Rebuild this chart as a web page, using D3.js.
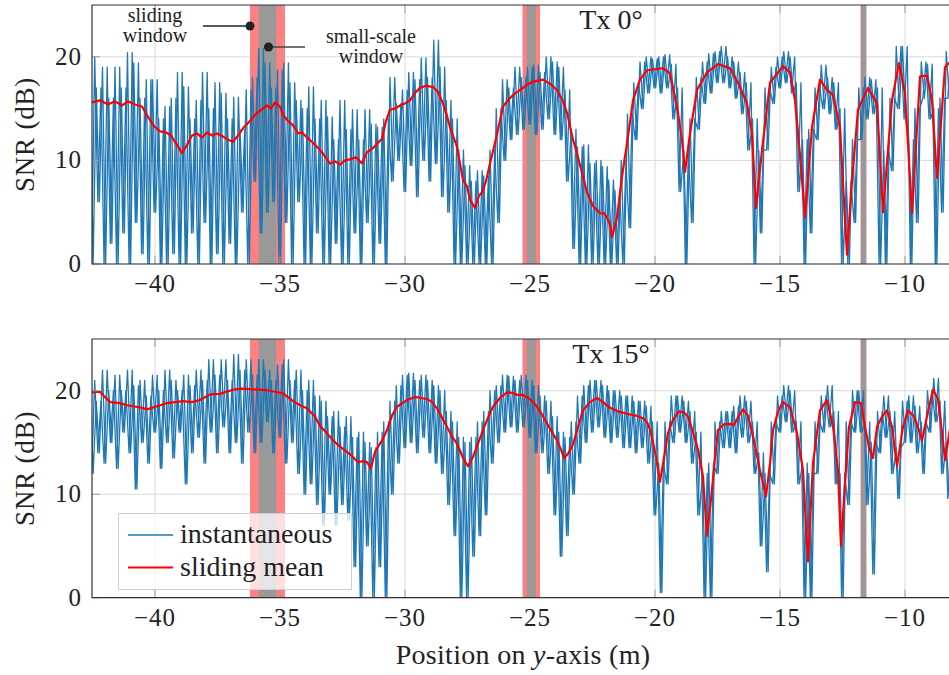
<!DOCTYPE html>
<html>
<head>
<meta charset="utf-8">
<script src="https://cdn.jsdelivr.net/npm/d3@7/dist/d3.min.js"></script>
<style>
  body { margin: 0; background: #fff; }
  svg { display: block; }
</style>
</head>
<body>
<div id="chart"></div>
<script>
// instantaneous SNR, read as upper / lower envelope per 0.25 m bin (starting at -42.6 m)
var binStart = -42.6
var binStep = 0.25

var hiTop = [20, 17, 19, 16, 19, 17, 20.4, 19.4, 16, 17.8, 17.8, 14, 15.2, 16, 18.5, 17.1, 14, 15.8, 18.5, 15,
  17.5, 16.5, 14, 16.1, 13, 16.8, 18, 20.8, 19.4, 17, 18.7, 19.4, 17.5, 15.8, 15, 17.1, 14, 15.8, 14.2, 12,
  15.8, 13, 14.9, 12, 14.9, 13.5, 13.2, 14, 18, 15.5, 16.8, 18.5, 17.8, 19.9, 18, 21.6, 19, 15.8, 14, 11,
  9.5, 8, 9, 8.5, 11, 15, 17.8, 17, 19, 18, 19, 19.2, 18.5, 20, 19.5, 19, 16.8, 13, 11.3, 11.5,
  9.7, 10, 9.4, 8.1, 7.1, 10, 14.5, 17.5, 19.5, 20, 19.8, 20, 20.2, 19.3, 17, 11, 14, 18, 19.5, 20.3,
  20.5, 21, 20, 19.5, 18.5, 17.5, 14, 11, 17, 19, 20, 20.5, 20, 17.5, 12, 13, 17, 19.2, 18, 17.5,
  15, 8, 12, 17, 18, 17.8, 17, 11, 16, 21, 21, 12, 15, 19.5, 19.3, 15, 16, 20.5, 21, 20]
var loTop = [0, 6, 0, 2, 0, 3, 0, 4, 1, 0, 5, 0, 0, 1, 0, 0, 3, 0, 4, 0,
  1, 0, 2, 0, 5, 0, 8, 3, 5, 6, 0, 4, 0, 6, 0, 0, 3, 0, 0, 2,
  0, 0, 3, 0, 4, 0, 2, 0, 8, 10, 7, 9.5, 6.5, 10, 8, 9.7, 6.5, 5, 0, 0,
  0, 0, 0, 0, 0, 4, 10, 12, 12.5, 13, 13.5, 12.5, 13, 14, 12.5, 12, 8, 1.5, 0, 0,
  0, 0, 0, 0, 0, 0, 3.5, 12, 15, 16.5, 17, 16.5, 17, 14, 7, 0, 4, 13, 15.5, 16.5,
  17.5, 17.5, 17, 16, 14.5, 11, 0, 3, 11, 15.5, 17, 17.5, 16.5, 7, 0, 3, 12, 15, 14.5, 13,
  0, 0, 4, 12, 14, 14.5, 0, 0, 9, 15, 14, 0, 4, 16, 14, 0, 5, 16, 17, 16]

var hiBottom = [21, 19, 22, 20, 21.5, 20, 22, 20.5, 21, 19.5, 21.5, 20, 22, 21, 20, 21.5, 20.5, 22, 21, 23,
  21.5, 23, 21, 23.5, 22, 23, 21.5, 23, 22, 21, 22.5, 23, 21, 22, 20, 21, 19.5, 19, 17.5, 18,
  16.5, 17.5, 15.5, 16, 15, 14.5, 16, 17, 19, 20.5, 21.5, 21.7, 21, 21.5, 21, 20.5, 20, 18, 17, 15.5,
  15, 15.5, 17, 18, 20, 20.5, 21.5, 21.4, 21, 21.5, 21, 20.5, 19.5, 19, 17.5, 16, 15.5, 17, 19.5, 20.5,
  21, 21, 20.5, 20, 20, 19.5, 19.5, 19, 19, 18.5, 17, 13, 17, 19.5, 19.5, 19, 18, 16, 12, 13,
  17, 18, 18, 18.5, 19.5, 19, 17, 14, 12, 17, 19.5, 20.5, 20, 17, 13, 12, 17, 19.5, 20.5, 18,
  12, 17, 20, 20, 17, 15, 18, 19.5, 18, 14.5, 19, 19.5, 18.5, 17, 20, 21.2, 19, 15, 19, 20]
var loBottom = [12, 14, 13, 15, 12.5, 16, 14, 10.5, 15, 13, 16, 12.5, 15, 13.5, 16, 11, 14, 15.5, 13, 16,
  14, 16.5, 14, 15, 13, 16, 14, 15, 17, 14, 15.5, 13, 15, 12, 10, 11, 9, 7, 10, 7,
  9, 7.5, 3, 0, 5, 0, 3, 0, 10, 13, 14.5, 15, 14, 15.5, 14, 13, 12, 9, 6, 0,
  0, 4, 6, 8, 13, 15, 16, 16.5, 16, 16.5, 15.5, 14, 14, 12, 8, 4, 6, 10, 13, 15,
  16, 16.5, 15.5, 15, 15.5, 14.5, 14.5, 14, 14.5, 13, 8, 0.5, 11, 15, 16, 15, 13, 8, 0, 0,
  12, 14.5, 14.5, 14, 15.5, 15, 12, 5, 2.5, 11, 16, 17, 16, 11, 0, 0, 12, 16, 16.5, 11,
  0, 9, 16, 16, 9, 2.3, 14, 15.5, 12, 9.6, 15, 15, 14, 12, 16, 17, 12, 9.6, 14, 16]

// sliding mean (m, dB)
var meanPosTop = [-42.52, -42.2, -41.88, -41.6, -41.32, -41.08, -40.8, -40.52, -40.28, -40.04, -39.8, -39.56, -39.36, -39.12, -38.92, -38.72, -38.52, -38.32, -38.12, -37.92,
  -37.72, -37.52, -37.28, -37.08, -36.88, -36.68, -36.48, -36.24, -35.92, -35.68, -35.52, -35.36, -35.2, -35.0, -34.88, -34.68, -34.48, -34.28, -34.12, -33.92,
  -33.68, -33.4, -33.2, -33.0, -32.8, -32.6, -32.4, -32.2, -31.96, -31.72, -31.52, -31.32, -31.08, -30.92, -30.76, -30.6, -30.4, -30.2, -30.0, -29.8,
  -29.6, -29.4, -29.16, -28.88, -28.68, -28.48, -28.32, -28.2, -27.92, -27.68, -27.52, -27.4, -27.2, -27.04, -26.92, -26.76, -26.6, -26.32, -26.08, -25.88,
  -25.68, -25.4, -25.12, -24.88, -24.48, -24.2, -23.92, -23.68, -23.52, -23.28, -23.12, -22.92, -22.72, -22.48, -22.2, -22.04, -21.92, -21.8, -21.72, -21.52,
  -21.28, -21.08, -20.88, -20.6, -20.32, -20.0, -19.68, -19.4, -19.12, -18.92, -18.8, -18.6, -18.32, -17.92, -17.48, -17.0, -16.68, -16.32, -16.12, -15.96,
  -15.72, -15.4, -14.88, -14.6, -14.4, -14.2, -14.0, -13.72, -13.4, -13.12, -12.88, -12.6, -12.44, -12.32, -12.12, -11.88, -11.48, -11.12, -10.88, -10.52,
  -10.24, -10.0, -9.72, -9.4, -9.12, -8.92, -8.72, -8.4, -8.12, -7.8]
var meanTop = [15.6, 15.8, 15.4, 15.7, 15.3, 15.7, 15.4, 15.2, 14.2, 13.3, 12.8, 12.7, 12.4, 11.5, 10.7, 11.5, 12.4, 12.6, 12.2, 12.7,
  12.4, 12.6, 12.3, 12.0, 11.8, 12.4, 13.1, 13.7, 14.6, 15.0, 15.3, 15.0, 15.6, 15.2, 14.4, 13.8, 13.4, 12.6, 12.7, 12.2,
  11.7, 11.0, 10.4, 9.7, 9.9, 9.6, 10.0, 10.1, 10.3, 9.7, 10.8, 11.1, 11.7, 12.1, 13.8, 14.9, 15.0, 15.3, 15.5, 15.8,
  16.5, 17.0, 17.2, 17.1, 16.6, 15.5, 14.3, 13.2, 11.3, 8.1, 7.5, 6.2, 5.4, 6.6, 6.9, 8.0, 9.7, 12.5, 15.2, 15.8,
  16.3, 16.8, 17.3, 17.6, 17.8, 17.4, 16.8, 15.7, 14.6, 12.0, 10.7, 8.8, 6.9, 5.6, 4.9, 4.9, 4.5, 3.8, 2.6, 4.5,
  9.1, 12.3, 15.8, 17.8, 18.7, 18.8, 18.9, 18.4, 15.2, 12.0, 8.9, 12.6, 16.8, 18.5, 19.3, 18.9, 17.5, 15.5, 12.6, 5.4,
  11.0, 17.5, 19.1, 18.5, 15.8, 10.5, 4.5, 13.2, 17.8, 16.8, 16.3, 13.2, 6.0, 0.9, 8.0, 14.9, 17.0, 15.5, 5.0, 15.8,
  19.4, 16.5, 4.9, 18.1, 18.2, 15.8, 8.3, 19.0, 19.7, 19.5]

var meanPosBottom = [-42.52, -42.2, -42.0, -41.8, -41.4, -41.12, -40.88, -40.6, -40.32, -39.92, -39.52, -39.2, -38.88, -38.52, -38.2, -37.8, -37.4, -36.88, -36.52, -36.2,
  -35.88, -35.52, -35.2, -34.88, -34.48, -34.2, -33.92, -33.6, -33.4, -33.16, -32.88, -32.6, -32.32, -32.08, -31.88, -31.68, -31.52, -31.36, -31.2, -30.92,
  -30.72, -30.52, -30.32, -29.92, -29.6, -29.36, -29.12, -28.92, -28.72, -28.52, -28.32, -28.12, -27.92, -27.68, -27.48, -27.28, -27.08, -26.88, -26.68, -26.48,
  -26.2, -25.92, -25.72, -25.52, -25.32, -25.12, -24.92, -24.72, -24.52, -24.32, -24.12, -23.92, -23.76, -23.64, -23.48, -23.28, -23.08, -22.88, -22.6, -22.32,
  -22.08, -21.8, -21.48, -21.08, -20.76, -20.44, -20.28, -20.16, -19.96, -19.8, -19.64, -19.48, -19.28, -19.04, -18.84, -18.68, -18.48, -18.28, -18.08, -17.92,
  -17.76, -17.6, -17.48, -17.24, -17.04, -16.84, -16.64, -16.48, -16.28, -16.04, -15.8, -15.56, -15.4, -15.28, -15.08, -14.88, -14.6, -14.32, -14.08, -13.88,
  -13.68, -13.4, -13.12, -12.88, -12.68, -12.56, -12.4, -12.24, -12.0, -11.76, -11.6, -11.44, -11.28, -11.12, -10.92, -10.72, -10.52, -10.32, -10.08, -9.88,
  -9.64, -9.48, -9.32, -9.08, -8.88, -8.68, -8.52, -8.4, -8.12, -7.8]
var meanBottom = [19.85, 19.9, 19.4, 18.9, 18.8, 18.6, 18.5, 18.4, 18.2, 18.5, 18.8, 18.9, 19.0, 18.9, 19.1, 19.65, 19.7, 20.1, 20.2, 20.15,
  20.1, 20.05, 19.9, 19.75, 19.0, 18.6, 18.3, 17.5, 16.6, 16.0, 15.2, 14.6, 14.1, 13.6, 13.1, 13.2, 13.1, 12.5, 14.1, 15.2,
  16.2, 17.6, 18.45, 19.1, 19.4, 19.3, 19.2, 18.9, 18.3, 17.4, 16.5, 15.6, 14.9, 13.5, 12.7, 13.6, 14.9, 16.2, 17.4, 18.45,
  19.3, 19.85, 19.8, 19.6, 19.6, 19.4, 19.0, 18.45, 17.7, 16.85, 16.0, 15.2, 14.3, 13.5, 13.9, 14.8, 16.5, 18.1, 18.9, 19.3,
  18.9, 18.35, 18.0, 17.75, 17.6, 17.3, 16.8, 15.9, 13.6, 11.2, 13.5, 15.9, 17.2, 18.0, 17.9, 17.5, 16.0, 14.3, 11.7, 6.0,
  9.5, 13.5, 16.2, 16.75, 16.8, 16.7, 17.6, 18.2, 17.6, 15.2, 12.3, 9.8, 13.0, 16.2, 18.0, 18.9, 18.4, 15.9, 12.3, 3.5,
  13.0, 18.1, 19.1, 16.6, 12.3, 5.0, 11.0, 16.5, 18.9, 18.8, 16.5, 14.5, 13.5, 16.5, 17.5, 18.1, 16.5, 12.7, 16.5, 18.1,
  17.5, 16.5, 15.2, 18.0, 20.1, 19.2, 16.0, 13.3, 17.5, 19.0]

// analysis windows (center, sliding window width, small-scale window width), m
var winCenter = [-35.5, -24.95, -11.66]
var slideWidth = [1.4, 0.7, 0.24]
var smallWidth = [0.7, 0.36, 0.2]

var xTicks = [-40, -35, -30, -25, -20, -15, -10]
var yTicks = [0, 10, 20]
var panelTitles = ['Tx 0°', 'Tx 15°']
var legendLabels = ['instantaneous', 'sliding mean']

var width = 949
var height = 675
var blue = '#1f77b4'
var red = '#ff0000'
var textColor = '#222'

var svg = d3
  .select('#chart')
  .append('svg')
  .attr('width', width)
  .attr('height', height)
  .attr('font-family', "'Liberation Serif', 'Times New Roman', serif")

var xScale = d3
  .scaleLinear()
  .domain([-42.52, -8.0])
  .range([92, 955])

var panels = [
  { top: 5, bottom: 264, hi: hiTop, lo: loTop, mPos: meanPosTop, mVal: meanTop, title: panelTitles[0] },
  { top: 339, bottom: 597.7, hi: hiBottom, lo: loBottom, mPos: meanPosBottom, mVal: meanBottom, title: panelTitles[1] }
]

var defs = svg.append('defs')

panels.forEach(function(p, k) {
  var yScale = d3.scaleLinear().domain([0, 25]).range([p.bottom, p.top])
  var g = svg.append('g')
  var x0 = xScale.range()[0]
  var x1 = xScale.range()[1]

  defs
    .append('clipPath')
    .attr('id', 'clip' + k)
    .append('rect')
    .attr('x', x0)
    .attr('y', p.top)
    .attr('width', x1 - x0)
    .attr('height', p.bottom - p.top)

  // grid
  g.selectAll('.vgrid')
    .data(xTicks)
    .enter()
    .append('line')
    .attr('x1', d => xScale(d))
    .attr('x2', d => xScale(d))
    .attr('y1', p.top)
    .attr('y2', p.bottom)
    .attr('stroke', '#dadada')
    .attr('stroke-width', 1)

  g.selectAll('.hgrid')
    .data(yTicks)
    .enter()
    .append('line')
    .attr('x1', x0)
    .attr('x2', x1)
    .attr('y1', d => yScale(d))
    .attr('y2', d => yScale(d))
    .attr('stroke', '#dadada')
    .attr('stroke-width', 1)

  var plot = g.append('g').attr('clip-path', 'url(#clip' + k + ')')

  // windows
  plot
    .selectAll('.slide')
    .data(winCenter)
    .enter()
    .append('rect')
    .attr('x', (d, i) => xScale(d - slideWidth[i] / 2))
    .attr('width', (d, i) => xScale(d + slideWidth[i] / 2) - xScale(d - slideWidth[i] / 2))
    .attr('y', p.top)
    .attr('height', p.bottom - p.top)
    .attr('fill', '#ff8080')

  plot
    .selectAll('.small')
    .data(winCenter)
    .enter()
    .append('rect')
    .attr('x', (d, i) => xScale(d - smallWidth[i] / 2))
    .attr('width', (d, i) => xScale(d + smallWidth[i] / 2) - xScale(d - smallWidth[i] / 2))
    .attr('y', p.top)
    .attr('height', p.bottom - p.top)
    .attr('fill', '#999999')

  // instantaneous: each bin's envelope drawn as two interleaved zigzags (hatched band)
  var ptsA = []
  var ptsB = []
  p.hi.forEach(function(h, i) {
    var m = binStart + i * binStep
    ptsA.push([m, h])
    ptsA.push([m + binStep / 2, p.lo[i]])
    ptsB.push([m + binStep / 4, p.lo[i]])
    ptsB.push([m + binStep * 3 / 4, h])
  })

  var line = d3
    .line()
    .x(d => xScale(d[0]))
    .y(d => yScale(d[1]))

  plot
    .selectAll('.inst')
    .data([ptsA, ptsB])
    .enter()
    .append('path')
    .attr('d', line)
    .attr('fill', 'none')
    .attr('stroke', blue)
    .attr('stroke-width', 1.3)
    .attr('stroke-linejoin', 'round')

  plot
    .append('path')
    .datum(p.mPos.map((m, i) => [m, p.mVal[i]]))
    .attr('d', line)
    .attr('fill', 'none')
    .attr('stroke', red)
    .attr('stroke-width', 2.2)
    .attr('stroke-linejoin', 'round')

  // ticks (inside, top + bottom, left)
  xTicks.forEach(function(t) {
    g.append('line')
      .attr('x1', xScale(t)).attr('x2', xScale(t))
      .attr('y1', p.bottom).attr('y2', p.bottom - 8)
      .attr('stroke', '#9a9a9a')
    g.append('line')
      .attr('x1', xScale(t)).attr('x2', xScale(t))
      .attr('y1', p.top).attr('y2', p.top + 8)
      .attr('stroke', '#9a9a9a')
  })
  yTicks.forEach(function(t) {
    g.append('line')
      .attr('x1', x0).attr('x2', x0 + 8)
      .attr('y1', yScale(t)).attr('y2', yScale(t))
      .attr('stroke', '#9a9a9a')
  })

  // frame
  g.append('path')
    .attr('d', 'M' + x1 + ',' + p.top + 'H' + x0 + 'V' + p.bottom + 'H' + x1)
    .attr('fill', 'none')
    .attr('stroke', '#333')
    .attr('stroke-width', 1.2)

  // tick labels
  g.selectAll('.xlab')
    .data(xTicks)
    .enter()
    .append('text')
    .attr('x', d => xScale(d))
    .attr('y', p.bottom + 28)
    .attr('text-anchor', 'middle')
    .attr('font-size', 25)
    .attr('letter-spacing', 1)
    .attr('fill', textColor)
    .text(d => '\u2212' + Math.abs(d))

  g.selectAll('.ylab')
    .data(yTicks)
    .enter()
    .append('text')
    .attr('x', 82)
    .attr('y', d => yScale(d) + 8)
    .attr('text-anchor', 'end')
    .attr('font-size', 25)
    .attr('letter-spacing', 1)
    .attr('fill', textColor)
    .text(d => d)

  g.append('text')
    .attr('transform', 'translate(34,' + (p.top + p.bottom) / 2 + ') rotate(-90)')
    .attr('text-anchor', 'middle')
    .attr('font-size', 27)
    .attr('letter-spacing', 0.8)
    .attr('fill', textColor)
    .text('SNR (dB)')

  g.append('text')
    .attr('x', 611)
    .attr('y', p.top + 24)
    .attr('text-anchor', 'middle')
    .attr('font-size', 28)
    .attr('fill', textColor)
    .text(p.title)
})

// x axis label
var xl = svg
  .append('text')
  .attr('x', 523)
  .attr('y', 664)
  .attr('text-anchor', 'middle')
  .attr('font-size', 28)
  .attr('letter-spacing', 0.3)
  .attr('fill', textColor)
xl.append('tspan').text('Position on ')
xl.append('tspan').attr('font-style', 'italic').text('y')
xl.append('tspan').text('-axis (m)')

// annotations in the top panel
var ann = svg.append('g').attr('fill', textColor).attr('font-size', 20)
ann.append('text').attr('x', 155).attr('y', 22).attr('text-anchor', 'middle').text('sliding')
ann.append('text').attr('x', 155).attr('y', 42).attr('text-anchor', 'middle').text('window')
ann.append('text').attr('x', 371).attr('y', 43).attr('text-anchor', 'middle').text('small-scale')
ann.append('text').attr('x', 371).attr('y', 63).attr('text-anchor', 'middle').text('window')

var slideLeft = xScale(winCenter[0] - slideWidth[0] / 2)
var smallMid = xScale(winCenter[0] + 0.04)
ann.append('line').attr('x1', 203).attr('x2', slideLeft).attr('y1', 26).attr('y2', 26).attr('stroke', textColor).attr('stroke-width', 1.3)
ann.append('circle').attr('cx', slideLeft).attr('cy', 26).attr('r', 4.5)
ann.append('line').attr('x1', smallMid).attr('x2', 305).attr('y1', 47).attr('y2', 47).attr('stroke', '#444').attr('stroke-width', 1.3)
ann.append('circle').attr('cx', smallMid).attr('cy', 47).attr('r', 4.5)

// legend in the bottom panel
var lg = svg.append('g')
lg.append('rect')
  .attr('x', 118.5)
  .attr('y', 513.5)
  .attr('width', 233)
  .attr('height', 76)
  .attr('fill', '#fff')
  .attr('fill-opacity', 0.75)
  .attr('stroke', '#cfcfcf')

var legendColors = [blue, red]
legendLabels.forEach(function(l, i) {
  var y = 535 + i * 32.5
  lg.append('line')
    .attr('x1', 128).attr('x2', 173)
    .attr('y1', y).attr('y2', y)
    .attr('stroke', legendColors[i])
    .attr('stroke-width', i === 0 ? 1.4 : 2.2)
  lg.append('text')
    .attr('x', 180)
    .attr('y', y + 8)
    .attr('font-size', 28)
    .attr('fill', textColor)
    .text(l)
})
</script>
</body>
</html>
